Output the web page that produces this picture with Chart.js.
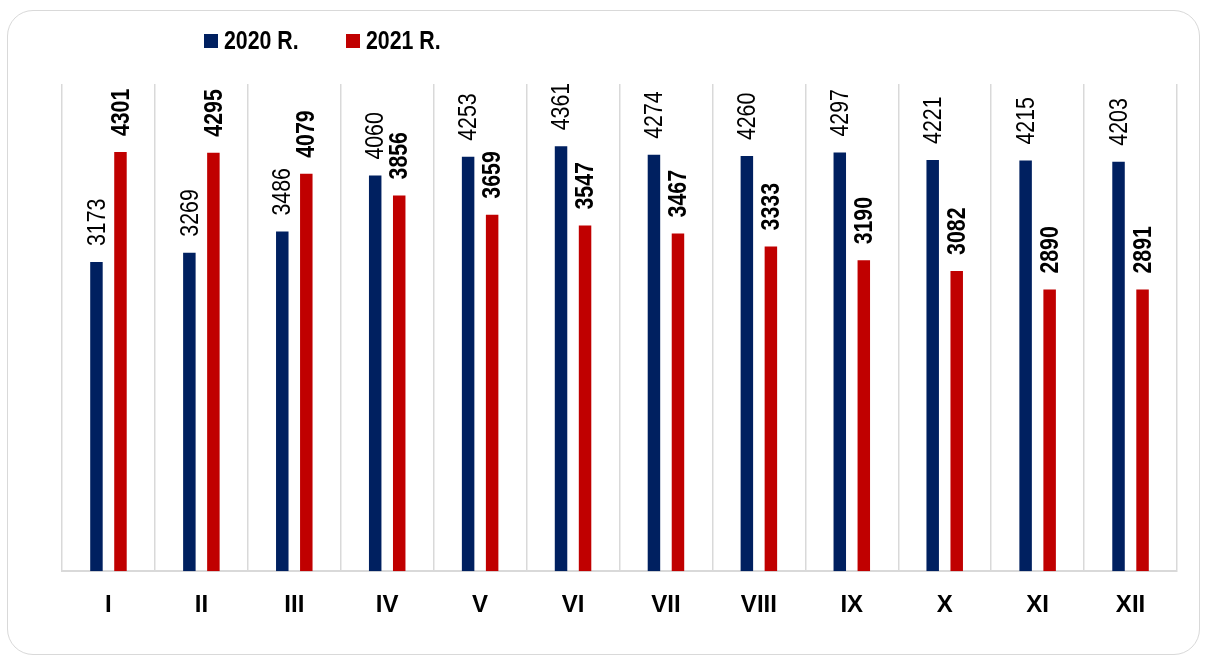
<!DOCTYPE html>
<html>
<head>
<meta charset="utf-8">
<script src="https://cdn.jsdelivr.net/npm/chart.js@4/dist/chart.umd.min.js"></script>
<style>
  html, body { margin: 0; padding: 0; background: #fff; }
  #wrap { position: relative; width: 1206px; height: 659px; }
  #card {
    position: absolute; left: 7px; top: 10px; width: 1193px; height: 645px;
    border: 1.5px solid #d9d9d9; border-radius: 26px; box-sizing: border-box;
  }
  #chart { position: absolute; left: 0; top: 0; }
</style>
</head>
<body>
<div id="wrap">
  <div id="card"></div>
  <canvas id="chart" width="1206" height="659"></canvas>
</div>
<script>
const months = ['I', 'II', 'III', 'IV', 'V', 'VI', 'VII', 'VIII', 'IX', 'X', 'XI', 'XII']
const seriesNames = ['2020 R.', '2021 R.']
const values2020 = [3173, 3269, 3486, 4060, 4253, 4361, 4274, 4260, 4297, 4221, 4215, 4203]
const values2021 = [4301, 4295, 4079, 3856, 3659, 3547, 3467, 3333, 3190, 3082, 2890, 2891]

const BLUE = '#002060'
const RED = '#C00000'

// narrow font if present, otherwise squeeze Liberation Sans
function hasFont(name) {
  const c = document.createElement('canvas').getContext('2d')
  c.font = '26px monospace'
  const a = c.measureText('4301 XII R.').width
  c.font = '26px "' + name + '", monospace'
  return c.measureText('4301 XII R.').width !== a
}
const narrow = hasFont('Liberation Sans Narrow')
const FAMILY = narrow ? '"Liberation Sans Narrow", "Liberation Sans", Arial' : '"Liberation Sans", Arial'
const SQUEEZE = narrow ? 1 : 0.82

function squeezedText(ctx, text, x, y) {
  ctx.save()
  ctx.translate(x, y)
  ctx.scale(SQUEEZE, 1)
  ctx.fillText(text, 0, 0)
  ctx.restore()
}

const barLabels = {
  id: 'barLabels',
  afterDatasetsDraw(chart) {
    const ctx = chart.ctx
    chart.data.datasets.forEach((ds, i) => {
      const meta = chart.getDatasetMeta(i)
      ctx.save()
      ctx.fillStyle = '#000'
      ctx.font = (i === 1 ? 'bold ' : '') + '26px ' + FAMILY
      ctx.textAlign = 'left'
      ctx.textBaseline = 'middle'
      meta.data.forEach((bar, j) => {
        ctx.save()
        ctx.translate(bar.x, bar.y - 16)
        ctx.rotate(-Math.PI / 2)
        squeezedText(ctx, String(ds.data[j]), 0, 1)
        ctx.restore()
      })
      ctx.restore()
    })
  }
}

const topLegend = {
  id: 'topLegend',
  afterDraw(chart) {
    const ctx = chart.ctx
    const spots = [204, 346]
    ctx.save()
    ctx.font = 'bold 26px ' + FAMILY
    ctx.textBaseline = 'middle'
    ctx.textAlign = 'left'
    chart.data.datasets.forEach((ds, i) => {
      const x = spots[i]
      ctx.fillStyle = ds.backgroundColor
      ctx.fillRect(x, 34, 14, 14)
      ctx.fillStyle = '#000'
      squeezedText(ctx, ds.label, x + 20, 42)
    })
    ctx.restore()
  }
}

new Chart(document.getElementById('chart'), {
  type: 'bar',
  data: {
    labels: months,
    datasets: [
      { label: seriesNames[0], data: values2020, backgroundColor: BLUE },
      { label: seriesNames[1], data: values2021, backgroundColor: RED },
    ]
  },
  options: {
    responsive: false,
    animation: false,
    categoryPercentage: 0.517,
    barPercentage: 0.52,
    layout: { padding: { top: 84, left: 62, right: 29, bottom: 19 } },
    plugins: {
      legend: { display: false },
      tooltip: { enabled: false },
    },
    scales: {
      x: {
        grid: { color: '#d9d9d9', lineWidth: 1.5, drawTicks: false, offset: true },
        border: { color: '#d9d9d9', width: 2 },
        ticks: {
          color: '#000',
          padding: 20,
          font: { family: FAMILY, size: narrow ? 26 : 24, weight: 'bold' },
          maxRotation: 0,
          autoSkip: false,
        }
      },
      y: {
        display: false,
        min: 0,
        max: 5000,
      }
    }
  },
  plugins: [barLabels, topLegend]
})
</script>
</body>
</html>
